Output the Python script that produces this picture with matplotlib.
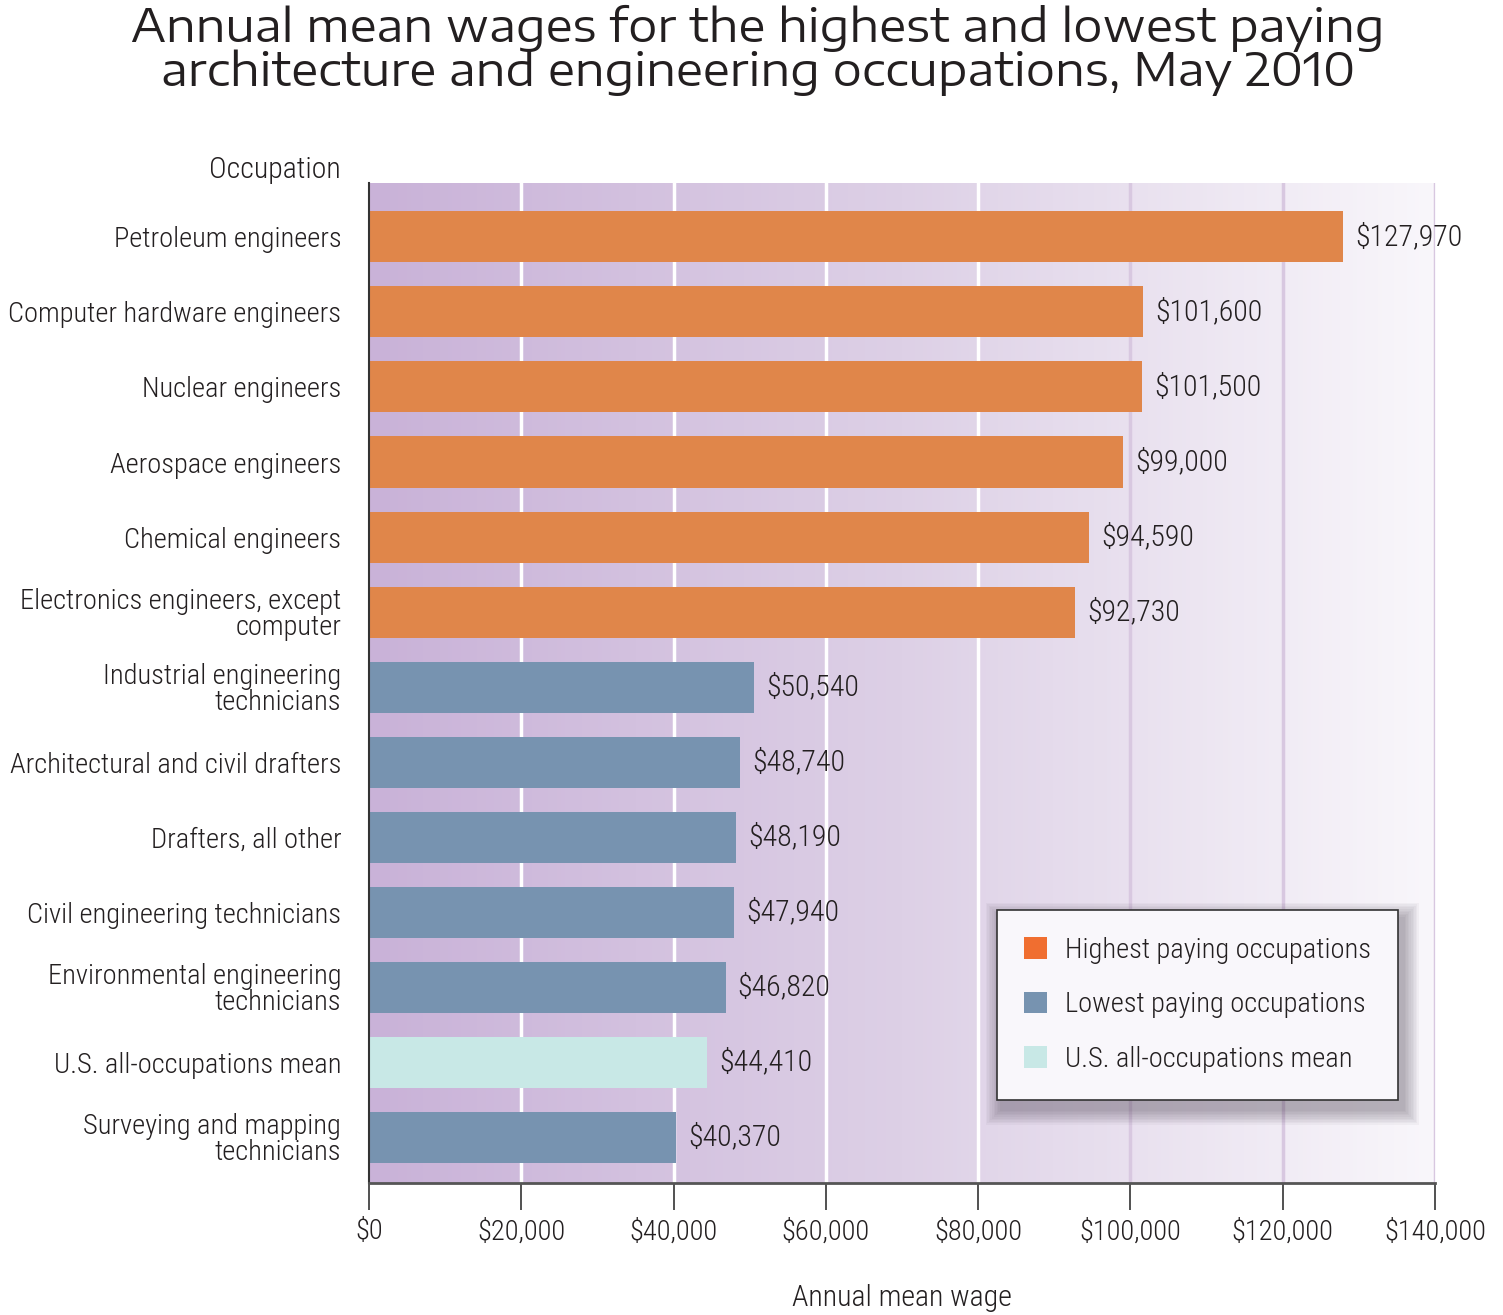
import matplotlib.pyplot as plt
import numpy as np
from matplotlib.patches import Patch, Rectangle
from matplotlib.colors import LinearSegmentedColormap

occupations = [
    "Petroleum engineers",
    "Computer hardware engineers",
    "Nuclear engineers",
    "Aerospace engineers",
    "Chemical engineers",
    "Electronics engineers, except\ncomputer",
    "Industrial engineering\ntechnicians",
    "Architectural and civil drafters",
    "Drafters, all other",
    "Civil engineering technicians",
    "Environmental engineering\ntechnicians",
    "U.S. all-occupations mean",
    "Surveying and mapping\ntechnicians",
]
wages = [127970, 101600, 101500, 99000, 94590, 92730,
         50540, 48740, 48190, 47940, 46820, 44410, 40370]
groups = ["high"] * 6 + ["low"] * 5 + ["mean", "low"]
xticks = [0, 20000, 40000, 60000, 80000, 100000, 120000, 140000]

colors = {"high": "#e0864a", "low": "#7793b0", "mean": "#c8e8e6"}
legend_labels = ["Highest paying occupations", "Lowest paying occupations",
                 "U.S. all-occupations mean"]
title_lines = ["Annual mean wages for the highest and lowest paying",
               "architecture and engineering occupations, May 2010"]

plt.rcParams['font.family'] = ['Roboto Condensed', 'DejaVu Sans']
plt.rcParams['font.weight'] = 300
txt_col = "#231f20"
fs = 20.5

fig = plt.figure(figsize=(15.03, 13.15), dpi=100)
ax = fig.add_axes([0.2455, 0.1004, 0.7093, 0.7605])

y = np.arange(len(occupations))
ylim = (len(occupations) - 1 + 0.61, -0.72)

# background gradient
grad = np.linspace(0, 1, 256).reshape(1, -1)
cmap = LinearSegmentedColormap.from_list("bg", ["#c9b2d8", "#ddd0e6", "#f9f7fb"])
ax.imshow(grad, cmap=cmap, aspect='auto', extent=(0, 140000, ylim[0], ylim[1]),
          zorder=0)

for xv in xticks[1:]:
    gc = "white" if xv <= 80000 else "#d8c8e0"
    ax.axvline(xv, color=gc, lw=2.5, zorder=1)

ax.barh(y, wages, height=0.68, color=[colors[g] for g in groups], zorder=2)

for yi, w in zip(y, wages):
    ax.text(w + 1600, yi, f"${w:,}", va='center', ha='left', fontsize=fs + 1,
            color=txt_col, zorder=3)

ax.set_xlim(0, 140000)
ax.set_ylim(*ylim)
ax.set_yticks(y)
ax.set_yticklabels(occupations, fontsize=fs, color=txt_col, linespacing=0.95)
ax.tick_params(axis='y', length=0, pad=20)
ax.set_xticks(xticks)
ax.set_xticklabels([f"${v:,}" for v in xticks], fontsize=fs, color=txt_col)
ax.tick_params(axis='x', direction='out', length=19.5, width=1.2, color="#333333", pad=6)

for s in ['top', 'right']:
    ax.spines[s].set_visible(False)
ax.spines['left'].set_color("#333333")
ax.spines['left'].set_linewidth(1.5)
ax.spines['bottom'].set_color("#555555")
ax.spines['bottom'].set_linewidth(2)

ax.set_xlabel("Annual mean wage", fontsize=fs + 1, color=txt_col, labelpad=28,
              weight=300)
fig.text(341 / 1503, 1 - 170 / 1315, "Occupation", ha='right', va='center',
         fontsize=fs + 1, color=txt_col)

for i, line in enumerate(title_lines):
    fig.text(758 / 1503, 1 - (28 + 44 * i) / 1315, line, ha='center', va='center',
             fontsize=33, color=txt_col, weight=400,
             family=['Encode Sans Expanded', 'DejaVu Sans'])

handles = [Patch(facecolor=c) for c in ["#f06e30", "#7793b0", "#c8e8e6"]]
leg = ax.legend(handles, legend_labels, loc='lower right',
                bbox_to_anchor=(0.9653, 0.083), fontsize=fs, frameon=True,
                fancybox=False, framealpha=1, handlelength=0.8, handleheight=0.8,
                borderpad=0.95, labelspacing=0.97, handletextpad=0.65,
                borderaxespad=0)
leg.get_frame().set_edgecolor("#333333")
leg.get_frame().set_linewidth(1.2)
leg.get_frame().set_facecolor("#f9f7fb")
leg.set_zorder(6)
for t in leg.get_texts():
    t.set_color(txt_col)

# soft shadow under the legend
fig.canvas.draw()
bb = leg.get_window_extent().transformed(fig.transFigure.inverted())
W, H = fig.get_size_inches() * fig.dpi
for k in range(10):
    g = (k + 1) * 1.6
    ax.add_patch(Rectangle((bb.x0 + (5 - g) / W, bb.y0 - (9 + g) / H),
                           bb.width + 2 * g / W, bb.height + 2 * g / H,
                           transform=fig.transFigure, facecolor="#3a3040",
                           edgecolor='none', alpha=0.04, zorder=4,
                           clip_on=False))

fig.savefig("out.png", dpi=100)
